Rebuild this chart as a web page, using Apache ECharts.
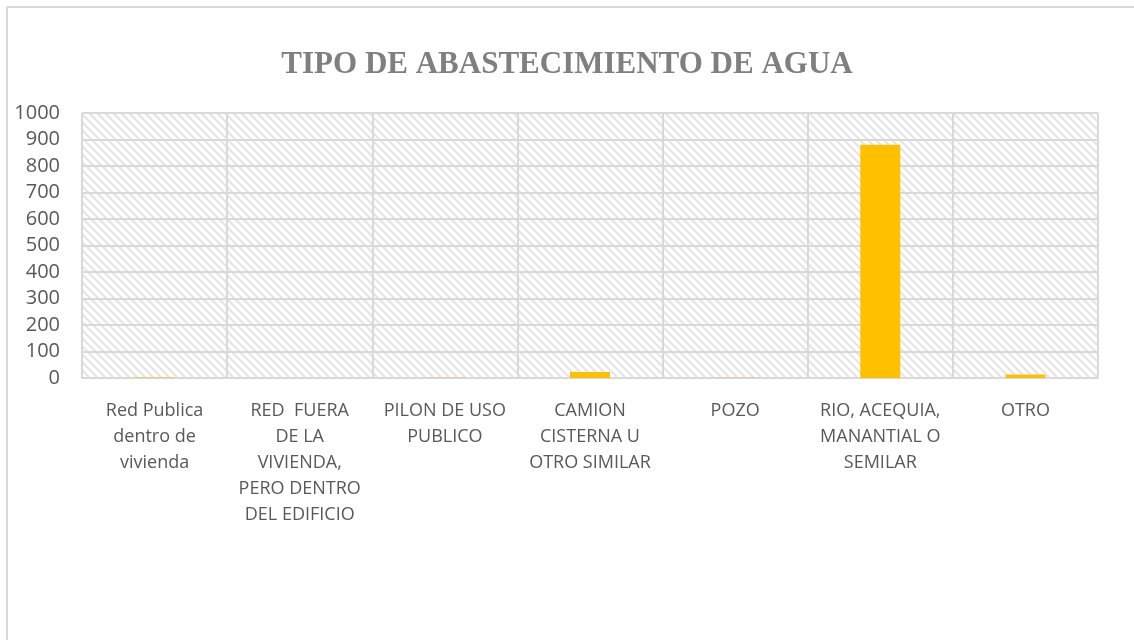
<!DOCTYPE html>
<html>
<head>
<meta charset="utf-8">
<script src="https://cdn.jsdelivr.net/npm/echarts@6/dist/echarts.min.js"></script>
<style>
  html, body { margin: 0; padding: 0; background: #fff; }
  #chart { width: 1134px; height: 640px; }
</style>
</head>
<body>
<div id="chart"></div>
<script>
// categorias del grafico
var categories = [
    'Red Publica\ndentro de\nvivienda',
    'RED  FUERA\nDE LA\nVIVIENDA,\nPERO DENTRO\nDEL EDIFICIO',
    'PILON DE USO\nPUBLICO',
    'CAMION\nCISTERNA U\nOTRO SIMILAR',
    'POZO',
    'RIO, ACEQUIA,\nMANANTIAL O\nSEMILAR',
    'OTRO'
];
var values = [2, 0, 1, 23, 1, 880, 13];
var yTicks = [0, 100, 200, 300, 400, 500, 600, 700, 800, 900, 1000];

// trama diagonal del fondo
function makeHatch() {
    var c = document.createElement('canvas');
    c.width = 8;
    c.height = 8;
    var ctx = c.getContext('2d');
    ctx.fillStyle = '#ffffff';
    ctx.fillRect(0, 0, 8, 8);
    ctx.strokeStyle = '#e4e4e4';
    ctx.lineWidth = 2;
    ctx.beginPath();
    ctx.moveTo(-2, -2); ctx.lineTo(10, 10);
    ctx.moveTo(-10, -2); ctx.lineTo(2, 10);
    ctx.moveTo(6, -2); ctx.lineTo(18, 10);
    ctx.stroke();
    return c;
}

var myChart = echarts.init(document.getElementById('chart'));
myChart.setOption({
    backgroundColor: '#fff',
    animation: false,
    title: {
        text: 'TIPO DE ABASTECIMIENTO DE AGUA',
        left: 'center',
        top: 44,
        textStyle: {
            fontFamily: 'Liberation Serif',
            fontWeight: 'bold',
            fontSize: 31,
            color: '#7f7f7f'
        }
    },
    graphic: [
        { type: 'line', shape: { x1: 7, y1: 7, x2: 1134, y2: 7 }, style: { stroke: '#d9d9d9', lineWidth: 2 } },
        { type: 'line', shape: { x1: 7, y1: 7, x2: 7, y2: 640 }, style: { stroke: '#d9d9d9', lineWidth: 2 } }
    ],
    grid: {
        left: 82,
        right: 36,
        top: 113,
        bottom: 262,
        show: true,
        borderWidth: 0,
        backgroundColor: { image: makeHatch(), repeat: 'repeat' }
    },
    xAxis: {
        type: 'category',
        data: categories,
        axisLine: { lineStyle: { color: '#d9d9d9', width: 2 } },
        axisTick: { show: false },
        splitLine: { show: true, lineStyle: { color: '#d9d9d9', width: 2 } },
        axisLabel: {
            interval: 0,
            margin: 20,
            fontFamily: 'Open Sans',
            fontSize: 18,
            lineHeight: 26,
            color: '#595959'
        }
    },
    yAxis: {
        type: 'value',
        min: yTicks[0],
        max: yTicks[yTicks.length - 1],
        interval: 100,
        axisLine: { show: false },
        axisTick: { show: false },
        splitLine: { lineStyle: { color: '#d9d9d9', width: 2 } },
        axisLabel: {
            margin: 22,
            formatter: function (v) { return String(v); },
            fontFamily: 'Open Sans',
            fontSize: 20,
            color: '#595959'
        }
    },
    series: [
        {
            type: 'bar',
            data: values,
            barWidth: 40,
            itemStyle: { color: '#ffc000' }
        }
    ]
});
</script>
</body>
</html>
